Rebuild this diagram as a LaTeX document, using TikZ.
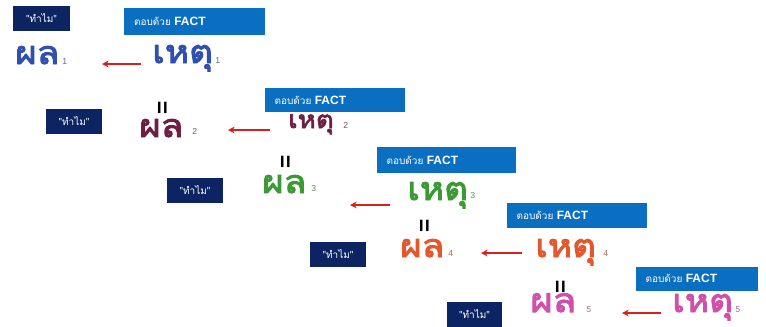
\documentclass[tikz,border=0pt]{standalone}
\usepackage{fontspec}
\setsansfont{Liberation Sans}
\newfontfamily\thaifont[Script=Thai]{Loma}
\newfontfamily\thaibold[Script=Thai, FakeBold=3, FakeStretch=1.15]{Loma}
\definecolor{navy}{HTML}{0C2461}
\definecolor{factblue}{HTML}{0A6FC0}
\definecolor{cA}{HTML}{2F50AE}
\definecolor{cB}{HTML}{6E1F45}
\definecolor{cC}{HTML}{3C9A35}
\definecolor{cD}{HTML}{E4572B}
\definecolor{cE}{HTML}{D04FA8}
\definecolor{arrowred}{HTML}{D8201F}
\usetikzlibrary{arrows.meta}
\tikzset{
  whybox/.style={fill=navy, text=white, inner sep=0pt, minimum height=18.75pt,
    font=\thaifont\fontsize{7.5}{8}\selectfont},
  factbox/.style={fill=factblue, text=white, inner sep=0pt, anchor=west, align=left,
    font=\thaifont\fontsize{7.5}{9}\selectfont},
  thaibig/.style={anchor=base west, inner sep=0pt, font=\thaibold\fontsize{24}{26}\selectfont},
  thaimid/.style={anchor=base west, inner sep=0pt, font=\thaibold\fontsize{18}{20}\selectfont},
  subnum/.style={anchor=base west, inner sep=0pt, font=\sffamily\fontsize{6.5}{7}\selectfont},
  eqsign/.style={rotate=90, inner sep=0pt, font=\sffamily\bfseries\fontsize{17}{17}\selectfont},
  redarrow/.style={draw=arrowred, line width=1.5pt, -{Stealth[length=5pt,width=5pt]}},
}
\begin{document}
\begin{tikzpicture}[x=0.75pt,y=-0.75pt]
\useasboundingbox (0,0) rectangle (766,326);
% row 1
\node[whybox, minimum width=42.75pt] (w1) at (41.5,18) {"ทำไม"};
\node[factbox, minimum width=105.75pt, minimum height=20pt, text width=99pt] (f1) at (124,21.5) {\hspace*{4pt}ตอบด้วย {\sffamily\bfseries\fontsize{9}{10}\selectfont FACT}};
\node[thaibig, text=cA] (p1) at (15,64) {ผล};
\node[subnum, text=cA!45!gray] (ps1) at (62,64) {1};
\node[thaibig, text=cA] (c1) at (152,63) {เหตุ};
\node[subnum, text=cA!45!gray] (cs1) at (215,63) {1};
\coordinate (a1s) at (141,64); \coordinate (a1e) at (102,64);
\draw[redarrow] (a1s) -- (a1e);
% row 2
\node[whybox, minimum width=42pt] (w2) at (74,121) {"ทำไม"};
\node[factbox, minimum width=105pt, minimum height=18.5pt, text width=99pt] (f2) at (265,100) {\hspace*{4pt}ตอบด้วย {\sffamily\bfseries\fontsize{9}{10}\selectfont FACT}};
\node[eqsign] (e2) at (164,108) {=};
\node[thaibig, text=cB] (p2) at (139,137) {ผล};
\node[subnum, text=cB!45!gray] (ps2) at (192,134) {2};
\node[thaimid, text=cB] (c2) at (288,128) {เหตุ};
\node[subnum, text=cB!45!gray] (cs2) at (343,128) {2};
\coordinate (a2s) at (270,130); \coordinate (a2e) at (228,130);
\draw[redarrow] (a2s) -- (a2e);
% row 3
\node[whybox, minimum width=42pt] (w3) at (195,190) {"ทำไม"};
\node[factbox, minimum width=104pt, minimum height=19.5pt, text width=98pt] (f3) at (377,160) {\hspace*{4pt}ตอบด้วย {\sffamily\bfseries\fontsize{9}{10}\selectfont FACT}};
\node[eqsign] (e3) at (287,162) {=};
\node[thaibig, text=cC] (p3) at (262,193) {ผล};
\node[subnum, text=cC!45!gray] (ps3) at (311,191) {3};
\node[thaibig, text=cC] (c3) at (407,200) {เหตุ};
\node[subnum, text=cC!45!gray] (cs3) at (470,198) {3};
\coordinate (a3s) at (390,205); \coordinate (a3e) at (350,205);
\draw[redarrow] (a3s) -- (a3e);
% row 4
\node[whybox, minimum width=42pt] (w4) at (338,254) {"ทำไม"};
\node[factbox, minimum width=105pt, minimum height=19pt, text width=99pt] (f4) at (507,215.5) {\hspace*{4pt}ตอบด้วย {\sffamily\bfseries\fontsize{9}{10}\selectfont FACT}};
\node[eqsign] (e4) at (426,226) {=};
\node[thaibig, text=cD] (p4) at (400,257) {ผล};
\node[subnum, text=cD!45!gray] (ps4) at (448,256) {4};
\node[thaibig, text=cD] (c4) at (535,257) {เหตุ};
\node[subnum, text=cD!45!gray] (cs4) at (603,256) {4};
\coordinate (a4s) at (522,253); \coordinate (a4e) at (481,253);
\draw[redarrow] (a4s) -- (a4e);
% row 5
\node[whybox, minimum width=41pt] (w5) at (474.5,314.5) {"ทำไม"};
\node[factbox, minimum width=91pt, minimum height=18pt, text width=85pt] (f5) at (636,278.5) {\hspace*{4pt}ตอบด้วย {\sffamily\bfseries\fontsize{9}{10}\selectfont FACT}};
\node[eqsign] (e5) at (562,287) {=};
\node[thaibig, text=cE, font=\thaibold\fontsize{25}{27}\selectfont] (p5) at (530,312) {ผล};
\node[subnum, text=cE!45!gray] (ps5) at (586,312) {5};
\node[thaibig, text=cE] (c5) at (672,312) {เหตุ};
\node[subnum, text=cE!45!gray] (cs5) at (735,312) {5};
\coordinate (a5s) at (661,313); \coordinate (a5e) at (622,313);
\draw[redarrow] (a5s) -- (a5e);
\end{tikzpicture}
\end{document}
